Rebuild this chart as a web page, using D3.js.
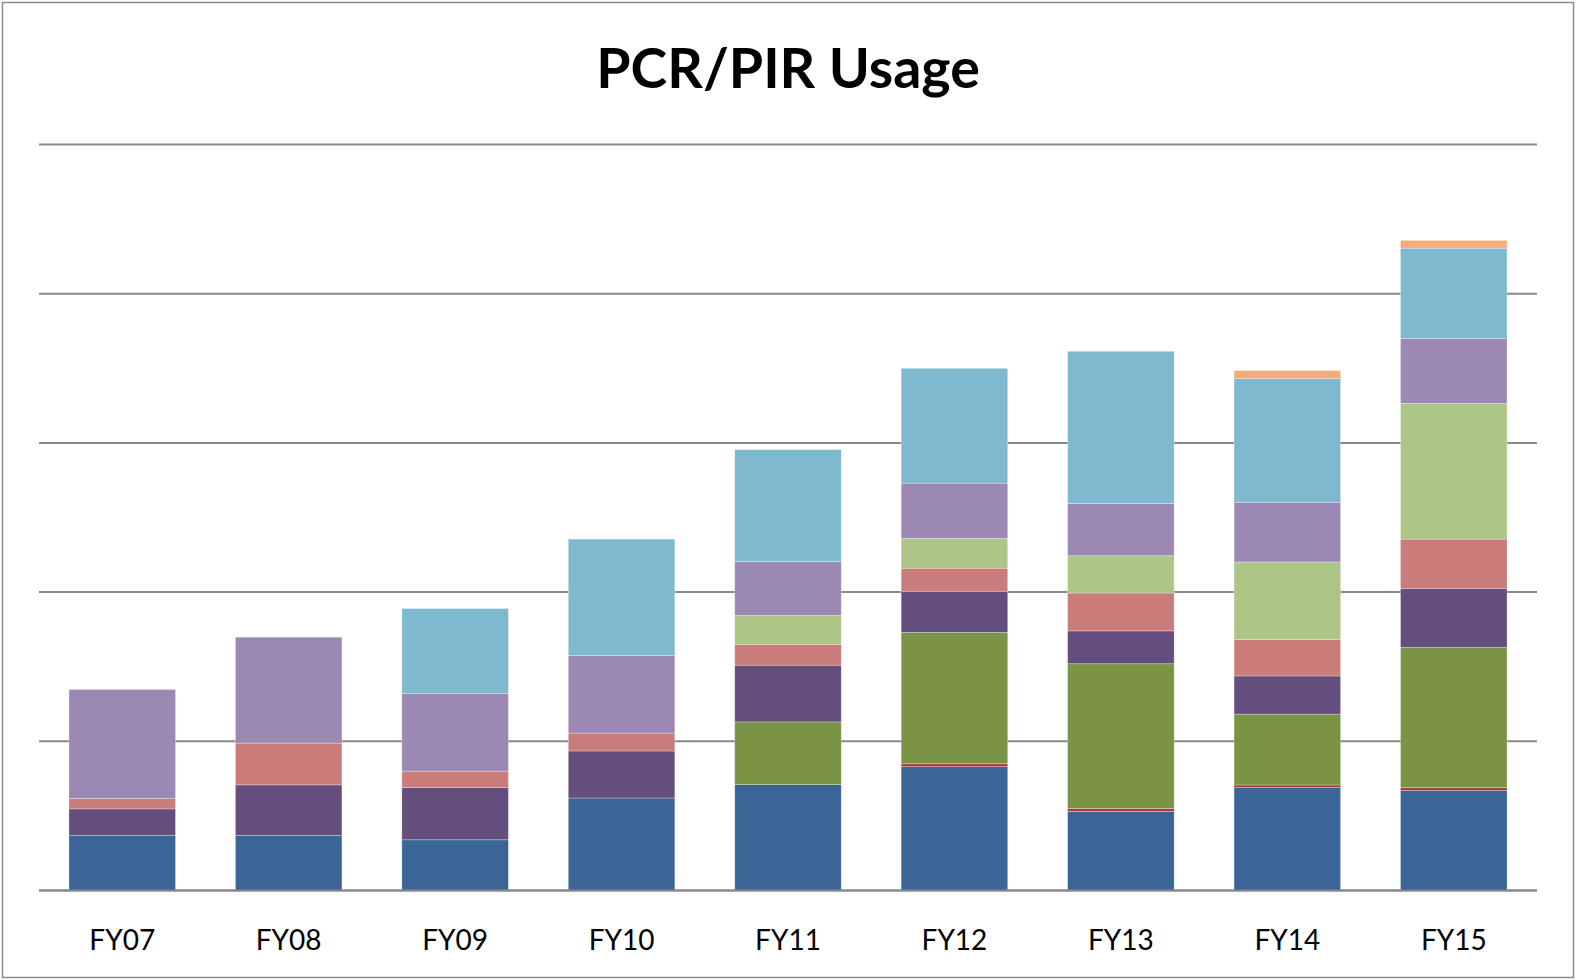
<!DOCTYPE html>
<html>
<head>
<meta charset="utf-8">
<script src="https://cdn.jsdelivr.net/npm/d3@7"></script>
<style>
  body { margin: 0; background: #fff; }
  #chart text { font-family: Lato, "Open Sans", sans-serif; }
</style>
</head>
<body>
<div id="chart"></div>
<script>
// categories (fiscal years)
var years = ["FY07", "FY08", "FY09", "FY10", "FY11", "FY12", "FY13", "FY14", "FY15"];

// series values, bottom of the stack first (gridline step = 100)
var series1 = [37, 37, 34, 62, 71, 83, 53, 69, 67];
var series2 = [0, 0, 0, 0, 0, 2, 2, 1.7, 2];
var series3 = [0, 0, 0, 0, 42, 88, 97, 47.5, 94];
var series4 = [17.7, 33.8, 35, 31.5, 38, 27.5, 22, 25.6, 39.5];
var series5 = [7, 28, 11, 12, 14, 15.5, 25.4, 24.4, 33];
var series6 = [0, 0, 0, 0, 19.5, 20, 25, 52, 91];
var series7 = [73, 71, 52, 52, 36, 37, 35, 40, 43.5];
var series8 = [0, 0, 57, 78, 75, 77, 102, 83, 60.5];
var series9 = [0, 0, 0, 0, 0, 0, 0, 5.3, 5.2];

var gridTicks = [0, 100, 200, 300, 400, 500];

var keys = ["s1", "s2", "s3", "s4", "s5", "s6", "s7", "s8", "s9"];
var colors = ["#3c6597", "#a33e3b", "#7a9344", "#634e7e", "#c97c7a",
              "#adc586", "#9b89b3", "#7eb9cf", "#f8ab78"];

var width = 1576, height = 980;
var margin = { top: 144.5, right: 39, bottom: 89.5, left: 39 };

var rows = years.map(function(y, i) {
  return { year: y, s1: series1[i], s2: series2[i], s3: series3[i], s4: series4[i],
           s5: series5[i], s6: series6[i], s7: series7[i], s8: series8[i], s9: series9[i] };
});

var svg = d3.select("#chart").append("svg")
  .attr("width", width)
  .attr("height", height);

// outer frame
svg.append("rect")
  .attr("x", 2.5).attr("y", 2.5)
  .attr("width", width - 5).attr("height", height - 5)
  .attr("fill", "#fff")
  .attr("stroke", "#8a8a8a")
  .attr("stroke-width", 1.5);

svg.append("text")
  .attr("x", 788)
  .attr("y", 88)
  .attr("text-anchor", "middle")
  .attr("font-weight", "bold")
  .attr("font-size", 55.5)
  .attr("fill", "#000")
  .text("PCR/PIR Usage");

var x = d3.scaleBand()
  .domain(years)
  .range([margin.left, width - margin.right])
  .paddingInner(0.36)
  .paddingOuter(0.18);

var y = d3.scaleLinear()
  .domain([0, 500])
  .range([height - margin.bottom, margin.top]);

// gridlines
svg.append("g").selectAll("line")
  .data(gridTicks)
  .enter().append("line")
  .attr("x1", margin.left)
  .attr("x2", width - margin.right)
  .attr("y1", function(d) { return y(d); })
  .attr("y2", function(d) { return y(d); })
  .attr("stroke", "#898989")
  .attr("stroke-width", 2);

var stacked = d3.stack().keys(keys)(rows);

var layer = svg.append("g").selectAll("g")
  .data(stacked)
  .enter().append("g")
  .attr("fill", function(d, i) { return colors[i]; });

layer.selectAll("rect")
  .data(function(d) { return d.filter(function(p) { return p[1] - p[0] > 0; }); })
  .enter().append("rect")
  .attr("x", function(d) { return x(d.data.year); })
  .attr("width", x.bandwidth())
  .attr("y", function(d) { return y(d[1]); })
  .attr("height", function(d) { return y(d[0]) - y(d[1]); })
  .attr("stroke", "rgba(255,255,255,0.35)")
  .attr("stroke-width", 0.8);

// redraw baseline over the bars
svg.append("line")
  .attr("x1", margin.left)
  .attr("x2", width - margin.right)
  .attr("y1", y(0))
  .attr("y2", y(0))
  .attr("stroke", "#898989")
  .attr("stroke-width", 2);

// category axis, no line or ticks
var xAxis = d3.axisBottom(x).tickSize(0).tickPadding(0);
var gx = svg.append("g")
  .attr("transform", "translate(0," + (y(0) + 59) + ")")
  .call(xAxis);
gx.select(".domain").remove();
gx.selectAll("text")
  .attr("font-size", 28)
  .attr("fill", "#000")
  .attr("dy", 0);
</script>
</body>
</html>
